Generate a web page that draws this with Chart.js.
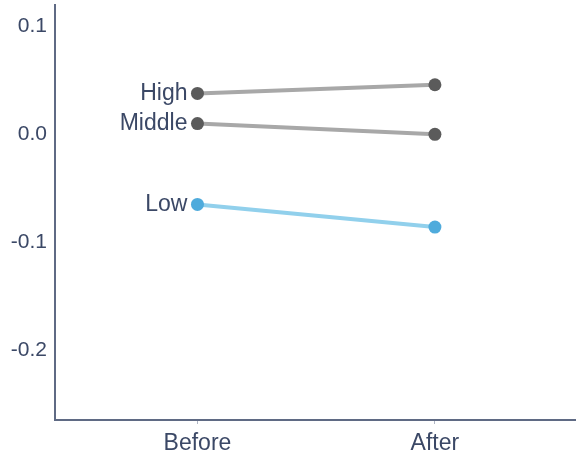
<!DOCTYPE html>
<html lang="en">
<head>
    <meta charset="UTF-8">
    <script src="https://cdn.jsdelivr.net/npm/chart.js"></script>
    <title>Before / After</title>
    <style>
        body {
            margin: 0;
            padding: 0;
            background-color: #ffffff;
        }
        .chart-box {
            width: 577px;
            height: 462px;
        }
    </style>
</head>
<body>
    <div class="chart-box">
        <canvas id="slopeChart" width="577" height="462"></canvas>
    </div>

    <script>
        // data
        const periods = ['Before', 'After'];
        const groups = ['High', 'Middle', 'Low'];
        const highValues = [0.038, 0.046];
        const middleValues = [0.010, 0.000];
        const lowValues = [-0.065, -0.086];
        const yTicks = [0.1, 0.0, -0.1, -0.2];

        const textColor = '#3b4866';
        const axisColor = '#5f6a84';
        const fontFamily = 'Arial, "Liberation Sans", Helvetica, sans-serif';

        const lineStyles = [
            { line: '#a8a8a8', point: '#5b5b5b' },
            { line: '#a8a8a8', point: '#5b5b5b' },
            { line: '#91d0ec', point: '#4fabdc' }
        ];

        const seriesValues = [highValues, middleValues, lowValues];

        const datasets = groups.map((name, i) => ({
            label: name,
            data: seriesValues[i].map((v, j) => ({ x: j + 1, y: v })),
            borderColor: lineStyles[i].line,
            backgroundColor: lineStyles[i].point,
            pointBackgroundColor: lineStyles[i].point,
            pointBorderColor: lineStyles[i].point,
            pointRadius: 6.5,
            pointBorderWidth: 0,
            borderWidth: 4,
            tension: 0
        }));

        // draws the group name to the left of the first point
        const groupLabels = {
            id: 'groupLabels',
            afterDatasetsDraw(chart) {
                const ctx = chart.ctx;
                ctx.save();
                ctx.font = '23px ' + fontFamily;
                ctx.fillStyle = textColor;
                ctx.textAlign = 'right';
                ctx.textBaseline = 'middle';
                chart.data.datasets.forEach((ds, i) => {
                    const pt = chart.getDatasetMeta(i).data[0];
                    ctx.fillText(ds.label, pt.x - 10, pt.y);
                });
                ctx.restore();
            }
        };

        new Chart(document.getElementById('slopeChart').getContext('2d'), {
            type: 'line',
            data: { datasets: datasets },
            options: {
                responsive: false,
                animation: false,
                layout: { autoPadding: false, padding: { top: 5, right: 2, left: 0, bottom: 0 } },
                plugins: {
                    legend: { display: false },
                    tooltip: { enabled: false }
                },
                scales: {
                    x: {
                        type: 'linear',
                        min: 0.4,
                        max: 2.59,
                        afterBuildTicks: s => { s.ticks = periods.map((p, i) => ({ value: i + 1 })); },
                        afterFit: s => { s.height = 42; s.paddingLeft = 0; s.paddingRight = 0; },
                        ticks: {
                            callback: v => periods[v - 1],
                            color: textColor,
                            font: { size: 23, family: fontFamily },
                            padding: 6,
                            maxRotation: 0
                        },
                        grid: {
                            drawOnChartArea: false,
                            drawTicks: true,
                            tickLength: 4,
                            tickColor: '#b0b6c4'
                        },
                        border: { display: true, color: axisColor, width: 2 }
                    },
                    y: {
                        min: -0.265,
                        max: 0.12,
                        afterBuildTicks: s => { s.ticks = yTicks.map(v => ({ value: v })); },
                        afterFit: s => { s.width = 55; s.paddingTop = 0; s.paddingBottom = 0; },
                        ticks: {
                            callback: v => v.toFixed(1),
                            color: textColor,
                            font: { size: 21, family: fontFamily },
                            padding: 8
                        },
                        grid: {
                            drawOnChartArea: false,
                            drawTicks: false
                        },
                        border: { display: true, color: axisColor, width: 2 }
                    }
                }
            },
            plugins: [groupLabels]
        });
    </script>
</body>
</html>
